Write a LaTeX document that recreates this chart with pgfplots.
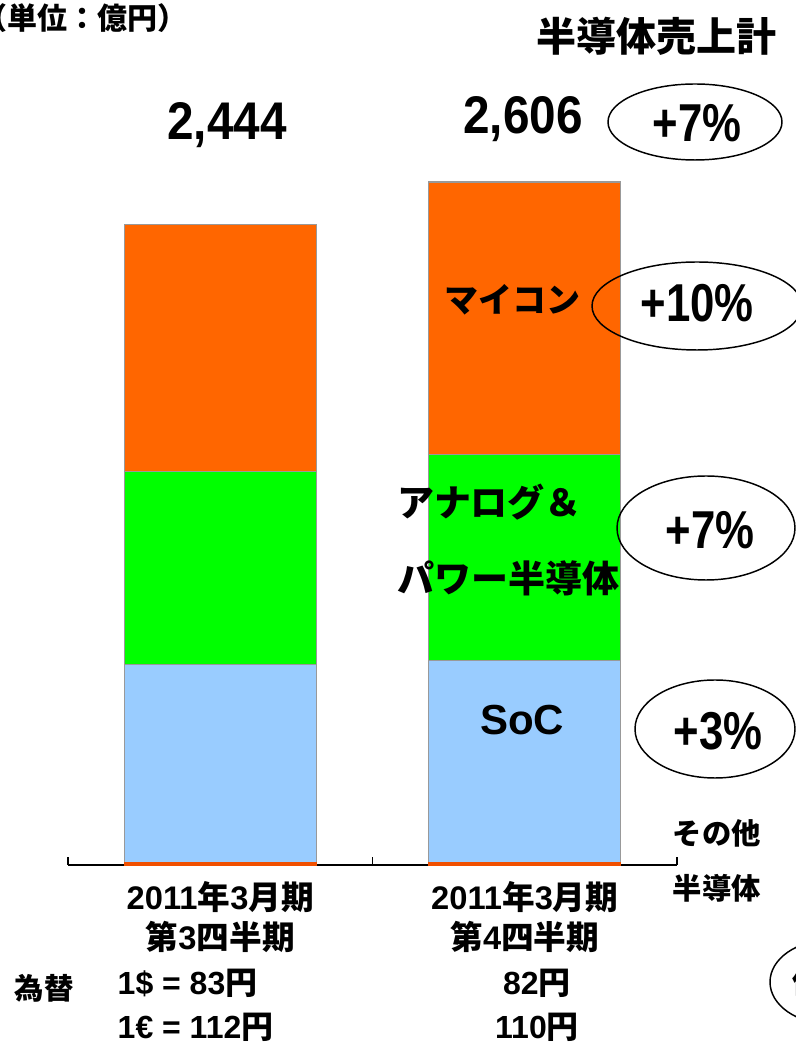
\documentclass[border=0pt]{standalone}
\usepackage{fontspec}
\usepackage{pgfplots}
\pgfplotsset{compat=1.18}
\setmainfont{Liberation Sans}
\newfontfamily\jp{Noto Sans CJK JP}
\definecolor{mcu}{HTML}{FF6600}
\definecolor{ana}{HTML}{00FF00}
\definecolor{soc}{HTML}{99CCFF}
\definecolor{oth}{HTML}{F05000}
\definecolor{edge}{HTML}{999999}
\newcommand{\J}[1]{{\jp\bfseries #1}}
\begin{document}
\begin{tikzpicture}
\path[use as bounding box] (0,0) rectangle (597pt,782.25pt);
\begin{axis}[
  at={(51pt,133.5pt)}, anchor=south west,
  scale only axis, width=456.75pt, height=550.4pt,
  xmin=-0.5, xmax=1.5, ymin=0, ymax=2800,
  ybar stacked, bar width=144pt,
  hide y axis,
  axis x line*=bottom,
  axis line style={-,black,line width=1pt},
  xtick={0,1},
  xticklabels={{2011\J{年}3\J{月期}\\\J{第}3\J{四半期}},{2011\J{年}3\J{月期}\\\J{第}4\J{四半期}}},
  major tick length=0pt,
  extra x ticks={-0.5,0.5,1.5},
  extra x tick labels={},
  extra x tick style={major tick length=6pt, tick align=inside, tick style={black,line width=1pt}},
  xticklabel style={font=\bfseries\fontsize{24.5}{30}\selectfont, align=center, yshift=-9pt},
  clip=false,
]
\addplot[fill=oth, draw=oth, line width=0.8pt] coordinates {(0,10) (1,10)};
\addplot[fill=soc, draw=edge, line width=1pt] coordinates {(0,756) (1,770)};
\addplot[fill=ana, draw=edge, line width=1pt] coordinates {(0,736) (1,787)};
\addplot[fill=mcu, draw=edge, line width=1pt] coordinates {(0,942) (1,1039)};
\end{axis}
\begin{scope}[x=0.75pt,y=-0.75pt,shift={(0,-1043)}]
% unit
\node[anchor=east, font=\jp\bfseries\fontsize{22.5}{24}\selectfont] at (192,18) {（単位：億円）};
\node[font=\jp\bfseries\fontsize{30}{32}\selectfont] at (656,36) {半導体売上計};
% totals
\node[font=\bfseries\fontsize{39.75}{40}\selectfont, xscale=0.9] at (227,125) {2,444};
\node[font=\bfseries\fontsize{39.75}{40}\selectfont, xscale=0.9] at (523,119) {2,606};
% ellipses
\begin{scope}[line width=1.1pt]
\draw (695,122) ellipse [x radius=87, y radius=38];
\draw (697,306) ellipse [x radius=105, y radius=44];
\draw (706,528) ellipse [x radius=89, y radius=52];
\draw (715,729) ellipse [x radius=80, y radius=49];
\draw (830,982) ellipse [x radius=60, y radius=42];
\end{scope}
\node[font=\bfseries\fontsize{40}{40}\selectfont, xscale=0.82] at (697,123) {+7\%};
\node[font=\bfseries\fontsize{40}{40}\selectfont, xscale=0.82] at (697,303) {+10\%};
\node[font=\bfseries\fontsize{40}{40}\selectfont, xscale=0.82] at (710,530) {+7\%};
\node[font=\bfseries\fontsize{40}{40}\selectfont, xscale=0.82] at (718,731) {+3\%};
\node[anchor=west, font=\jp\bfseries\fontsize{22.5}{24}\selectfont] at (788,982) {伸び率};
% segment labels
\node[font=\jp\bfseries\fontsize{25.5}{27}\selectfont] at (512,300) {マイコン};
\node[anchor=west, font=\jp\bfseries\fontsize{27.75}{30}\selectfont] at (393,502) {アナログ＆};
\node[anchor=west, font=\jp\bfseries\fontsize{27.75}{30}\selectfont] at (393,578) {パワー半導体};
\node[font=\bfseries\fontsize{31.5}{32}\selectfont] at (522,720) {SoC};
\node[anchor=west, font=\jp\bfseries\fontsize{22}{24}\selectfont] at (668,833) {その他};
\node[anchor=west, font=\jp\bfseries\fontsize{22}{24}\selectfont] at (668,888) {半導体};
% exchange rates
\node[anchor=west, font=\jp\bfseries\fontsize{22}{24}\selectfont] at (10,988) {為替};
\node[anchor=west, font=\bfseries\fontsize{24}{24}\selectfont] at (113,983) {1\$ = 83\J{円}};
\node[anchor=west, font=\bfseries\fontsize{24}{24}\selectfont] at (113,1027) {1€ = 112\J{円}};
\node[font=\bfseries\fontsize{24}{24}\selectfont] at (537,983) {82\J{円}};
\node[font=\bfseries\fontsize{24}{24}\selectfont] at (537,1027) {110\J{円}};
\end{scope}
\end{tikzpicture}
\end{document}
